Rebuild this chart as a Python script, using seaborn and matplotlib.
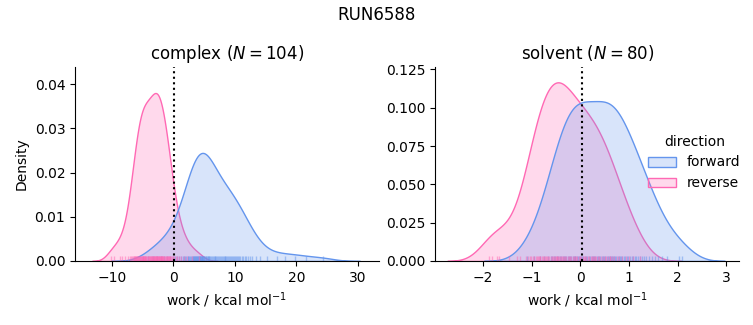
import matplotlib
matplotlib.use("Agg")
import matplotlib.pyplot as plt
import pandas as pd
import seaborn as sns

phases = ["complex", "solvent"]
directions = ["forward", "reverse"]

complex_forward = [
    -4.2, -3.3,
    -2.6, -2.0, -1.5, -1.1,
    -0.6, -0.1, 0.3, 0.6, 0.85,
    1.2, 1.5, 1.75, 1.95,
    2.1, 2.3, 2.45, 2.6, 2.75, 2.9,
    3.03, 3.11, 3.2, 3.28, 3.37, 3.45, 3.54, 3.62, 3.71, 3.79, 3.87, 3.95,
    4.03, 4.1, 4.18, 4.25, 4.33, 4.4, 4.48, 4.55, 4.6, 4.66, 4.72, 4.79, 4.86, 4.93,
    5.05, 5.15, 5.25, 5.35, 5.45, 5.55, 5.65, 5.75, 5.85, 5.95,
    6.1, 6.25, 6.4, 6.55, 6.7, 6.82, 6.94,
    7.1, 7.28, 7.45, 7.6, 7.76, 7.9,
    8.04, 8.17, 8.32, 8.45, 8.6, 8.73, 8.89,
    9.08, 9.24, 9.41, 9.57, 9.72, 9.9,
    10.06, 10.23, 10.39, 10.55, 10.72, 10.9,
    11.1, 11.35, 11.6, 11.85,
    12.15, 12.5, 12.85,
    13.4, 14.1,
    15.2, 16.8, 18.1, 19.7, 21.6, 24.4,
]

complex_reverse = [
    -10.1, -9.6,
    -8.7, -8.3, -7.9,
    -7.4, -7.1, -6.95, -6.67, -6.55,
    -6.46, -6.37, -6.29, -6.2, -6.11, -6.02, -5.93, -5.85, -5.77, -5.68, -5.6, -5.53,
    -5.46, -5.38, -5.31, -5.23, -5.15, -5.08, -5.02, -4.97, -4.94, -4.92, -4.85, -4.77, -4.69, -4.62, -4.54,
    -4.46, -4.38, -4.29, -4.21, -4.13, -4.04, -3.96, -3.88, -3.79, -3.71, -3.63, -3.54,
    -3.47, -3.41, -3.34, -3.28, -3.22, -3.16, -3.09, -3.03, -2.97, -2.91, -2.84, -2.78, -2.72, -2.66, -2.59, -2.53,
    -2.47, -2.41, -2.34, -2.28, -2.22, -2.16, -2.09, -2.03, -1.97, -1.91, -1.84, -1.78, -1.72, -1.66, -1.59, -1.53,
    -1.36, -1.28, -1.19, -1.11, -1.03, -0.94, -0.86, -0.78, -0.69, -0.61, -0.53, -0.44,
    -0.3, -0.1, 0.15, 0.4,
    0.65, 0.9, 1.2,
    1.7, 2.2,
    3.0, 4.1,
]

solvent_forward = [
    -1.1, -0.95, -0.83, -0.74, -0.66,
    -0.61, -0.58, -0.55, -0.52, -0.48, -0.45, -0.42, -0.39,
    -0.36, -0.33, -0.31, -0.29, -0.26, -0.24, -0.21, -0.19, -0.16, -0.14,
    -0.12, -0.1, -0.07, -0.05, -0.03, 0.0, 0.02, 0.04, 0.06, 0.09, 0.11,
    0.14, 0.17, 0.2, 0.23, 0.26, 0.29, 0.31, 0.34, 0.36,
    0.39, 0.41, 0.44, 0.46, 0.49, 0.51, 0.54, 0.56, 0.59, 0.61,
    0.63, 0.65, 0.68, 0.7, 0.72, 0.74, 0.77, 0.79, 0.81, 0.84, 0.86,
    0.89, 0.92, 0.96, 0.99, 1.03, 1.06, 1.09, 1.12,
    1.15, 1.19, 1.23, 1.27, 1.31, 1.35,
    1.41, 1.47, 1.53, 1.59,
    1.68, 1.79,
    2.02, 2.09,
]

solvent_reverse = [
    -1.88, -1.81, -1.72, -1.67, -1.46, -1.31, -1.24,
    -1.11, -1.07, -1.04, -1.01, -0.98, -0.95, -0.92, -0.9, -0.88,
    -0.86, -0.84, -0.82, -0.79, -0.77, -0.75, -0.72, -0.7, -0.68, -0.66, -0.64,
    -0.61, -0.59, -0.57, -0.54, -0.52, -0.5, -0.48, -0.47, -0.45, -0.43, -0.41, -0.39,
    -0.37, -0.35, -0.33, -0.31, -0.29, -0.26, -0.24, -0.21, -0.19, -0.16, -0.14,
    -0.11, -0.08, -0.06, -0.03, -0.01, 0.02, 0.05, 0.07, 0.1, 0.12,
    0.15, 0.18, 0.21, 0.24, 0.27, 0.29, 0.31, 0.33, 0.36,
    0.39, 0.43, 0.46, 0.5, 0.53, 0.57, 0.6, 0.62,
    0.65, 0.7, 0.75, 0.8, 0.85,
    0.93, 1.01, 1.09,
    1.22,
]

free_energy = {"complex": 0.16, "solvent": 0.04}
n_samples = {"complex": 104, "solvent": 80}

series = {
    ("complex", "forward"): complex_forward,
    ("complex", "reverse"): complex_reverse,
    ("solvent", "forward"): solvent_forward,
    ("solvent", "reverse"): solvent_reverse,
}

frames = []
for (phase, direction), values in series.items():
    frames.append(pd.DataFrame({"work": values, "phase": phase, "direction": direction}))
df = pd.concat(frames, ignore_index=True)

palette = {"forward": "cornflowerblue", "reverse": "hotpink"}

g = sns.displot(
    data=df, x="work", hue="direction", col="phase", kind="kde",
    fill=True, rug=True, rug_kws=dict(alpha=0.5),
    palette=palette, hue_order=directions, col_order=phases,
    facet_kws=dict(sharex=False, sharey=False), height=3, aspect=1.1,
)

fig = g.figure
xlims = {"complex": (-16.0, 33.4), "solvent": (-2.98, 3.27)}
ylims = {"complex": (0, 0.0439), "solvent": (0, 0.1266)}
for phase, ax in g.axes_dict.items():
    ax.axvline(free_energy[phase], color="black", linestyle=":", linewidth=1.5)
    ax.set_title(f"{phase} ($N={n_samples[phase]}$)", fontsize=12)
    ax.set_xlabel("work / kcal mol$^{-1}$")
    ax.set_xlim(*xlims[phase])
    ax.set_ylim(*ylims[phase])
g.axes_dict["complex"].set_ylabel("Density")

fig.set_size_inches(7.53, 3.25)
fig.subplots_adjust(left=0.0996, right=0.9818, bottom=0.197, top=0.794, wspace=0.1865)
sns.move_legend(g, "center", bbox_to_anchor=(0.922, 0.5), frameon=False)
fig.suptitle("RUN6588", fontsize=12)
fig.savefig("out.png", dpi=100)
